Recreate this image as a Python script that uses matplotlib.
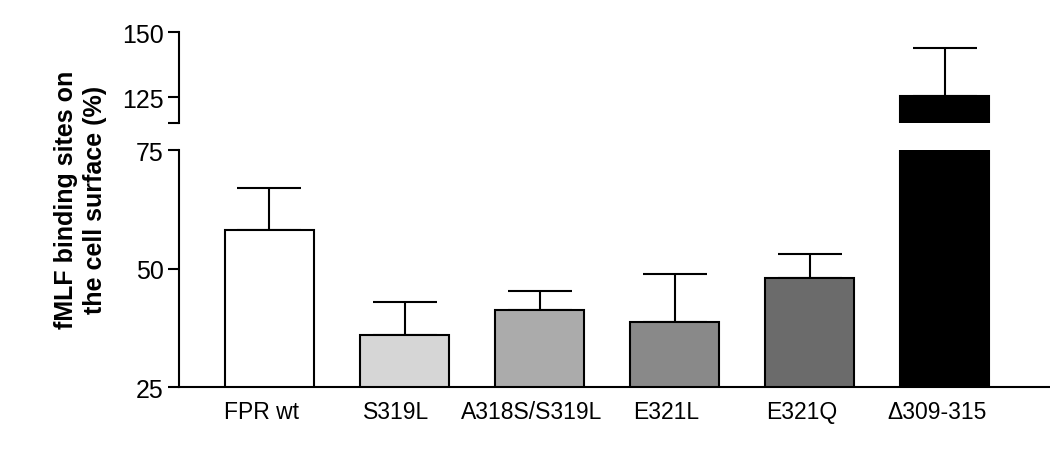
import numpy as np
import matplotlib
matplotlib.use("Agg")
import matplotlib.pyplot as plt
from matplotlib.transforms import ScaledTranslation

plt.rcParams['font.family'] = ['Liberation Sans', 'DejaVu Sans']

labels = ["FPR wt", "S319L", "A318S/S319L", "E321L", "E321Q", "\u0394309-315"]
means = [58.1, 36.0, 41.2, 38.7, 48.0, 125.5]
errors = [8.9, 6.9, 4.1, 10.1, 5.1, 18.3]
colors = ["#ffffff", "#d6d6d6", "#ababab", "#898989", "#6b6b6b", "#000000"]

x = np.arange(len(labels))

fig = plt.figure(figsize=(10.5, 4.6), dpi=100)
ax_lo = fig.add_axes([0.1705, 0.1565, 0.8295, 0.5152])
ax_hi = fig.add_axes([0.1705, 0.7304, 0.8295, 0.1978])

for ax in (ax_lo, ax_hi):
    ax.bar(x, means, width=0.66, color=colors, edgecolor="black", linewidth=1.5, zorder=2)
    ax.errorbar(x, means, yerr=[np.zeros(len(means)), errors], fmt="none",
                ecolor="black", elinewidth=1.5, capsize=23, capthick=1.5, zorder=1)
    ax.set_xlim(-0.67, 5.78)
    for s in ("top", "right"):
        ax.spines[s].set_visible(False)
    ax.spines["left"].set_linewidth(1.5)
    ax.tick_params(axis="y", length=8, width=1.5, labelsize=18, pad=3)

ax_lo.set_ylim(25, 75)
ax_lo.set_yticks([25, 50, 75])
ax_lo.spines["bottom"].set_linewidth(1.5)
ax_lo.set_xticks(x)
ax_lo.set_xticklabels(labels, fontsize=16.5)
ax_lo.tick_params(axis="x", length=0, pad=9)
shift = ScaledTranslation(-8 / 100, 0, fig.dpi_scale_trans)
for lab in ax_lo.get_xticklabels():
    lab.set_transform(lab.get_transform() + shift)

ax_hi.set_ylim(115, 150)
ax_hi.set_yticks([115, 125, 150])
ax_hi.set_yticklabels(["", "125", "150"])
ax_hi.spines["bottom"].set_visible(False)
ax_hi.set_xticks([])

fig.text(0.077, 0.565, "fMLF binding sites on\nthe cell surface (%)", rotation=90,
         ha="center", va="center", fontsize=18, fontweight="bold", linespacing=1.25)

fig.savefig("out.png", dpi=100)
